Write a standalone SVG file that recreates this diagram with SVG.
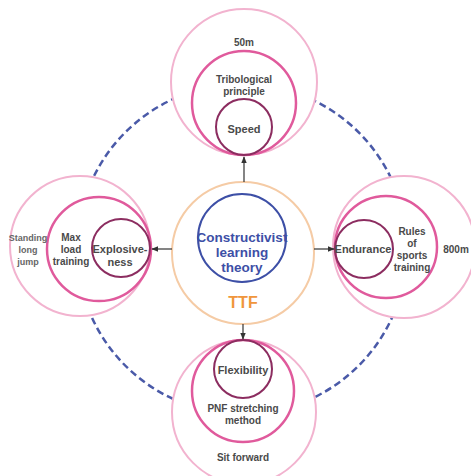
<svg xmlns="http://www.w3.org/2000/svg" width="471" height="476" viewBox="0 0 471 476">
<defs>
<marker id="ah" viewBox="0 0 10 10" refX="9" refY="5" markerWidth="6" markerHeight="6" orient="auto">
<path d="M0,1 L10,5 L0,9 z" fill="#333"/>
</marker>
<style>
.outer{fill:#fff;stroke:#f2b3cf;stroke-width:2}
.mid{fill:none;stroke:#e05a9c;stroke-width:2.5}
.inner{fill:none;stroke:#8c2d60;stroke-width:2}
.t{font-family:"Liberation Sans",Arial,sans-serif;font-weight:bold;fill:#4a4a4a;text-anchor:middle;dominant-baseline:central}
.s10{font-size:10px}
.s11{font-size:11px}
.s9{font-size:9px;fill:#666}
.ctr{font-size:13.5px;fill:#3d4fa6}
.conn{stroke:#333;stroke-width:1.2;fill:none;marker-end:url(#ah)}
</style>
</defs>
<rect width="471" height="476" fill="#fff"/>
<circle cx="242" cy="249" r="165" fill="none" stroke="#4a5aa8" stroke-width="2.5" stroke-dasharray="7 4"/>
<g id="node-top">
<circle class="outer" cx="244" cy="82" r="73"/>
<circle class="mid" cx="244" cy="103" r="52"/>
<circle class="inner" cx="244" cy="127" r="28"/>
<text class="t s10" x="244" y="42">50m</text>
<text class="t s10" x="244" y="79">Tribological</text>
<text class="t s10" x="244" y="91">principle</text>
<text class="t s11" x="244" y="129">Speed</text>
</g>
<g id="node-left">
<circle class="outer" cx="80" cy="246" r="70"/>
<circle class="mid" cx="99" cy="249" r="52"/>
<circle class="inner" cx="121" cy="248" r="29"/>
<text class="t s9" x="28" y="238">Standing</text>
<text class="t s9" x="28" y="250">long</text>
<text class="t s9" x="28" y="262">jump</text>
<text class="t s10" x="71" y="237">Max</text>
<text class="t s10" x="71" y="249">load</text>
<text class="t s10" x="71" y="261">training</text>
<text class="t s11" x="120" y="249">Explosive-</text>
<text class="t s11" x="120" y="262">ness</text>
</g>
<g id="node-right">
<circle class="outer" cx="404" cy="247" r="71"/>
<circle class="mid" cx="386" cy="247" r="51"/>
<circle class="inner" cx="364" cy="249" r="29"/>
<text class="t s11" x="363" y="249">Endurance</text>
<text class="t s10" x="412" y="231">Rules</text>
<text class="t s10" x="412" y="243">of</text>
<text class="t s10" x="412" y="255">sports</text>
<text class="t s10" x="412" y="267">training</text>
<text class="t s10" x="456" y="249">800m</text>
</g>
<g id="node-bottom">
<circle class="outer" cx="244" cy="412" r="72"/>
<circle class="mid" cx="243" cy="391" r="51"/>
<circle class="inner" cx="243" cy="369" r="29"/>
<text class="t s11" x="243" y="370">Flexibility</text>
<text class="t s10" x="243" y="408">PNF stretching</text>
<text class="t s10" x="243" y="420">method</text>
<text class="t s10" x="243" y="457">Sit forward</text>
</g>
<g id="node-center">
<circle cx="243" cy="253" r="71" fill="#fff" stroke="#f5cba5" stroke-width="2"/>
<circle cx="242" cy="238" r="44" fill="none" stroke="#3d4fa6" stroke-width="2"/>
<text class="t ctr" x="242" y="237">Constructivist</text>
<text class="t ctr" x="242" y="252">learning</text>
<text class="t ctr" x="242" y="267">theory</text>
<text class="t" x="243" y="302" style="font-size:16px;fill:#f0963c">TTF</text>
</g>
<g id="connectors">
<line class="conn" x1="244" y1="182" x2="244" y2="157"/>
<line class="conn" x1="172" y1="249" x2="152" y2="249"/>
<line class="conn" x1="314" y1="249" x2="334" y2="249"/>
<line class="conn" x1="243" y1="324" x2="243" y2="339"/>
</g>
</svg>
